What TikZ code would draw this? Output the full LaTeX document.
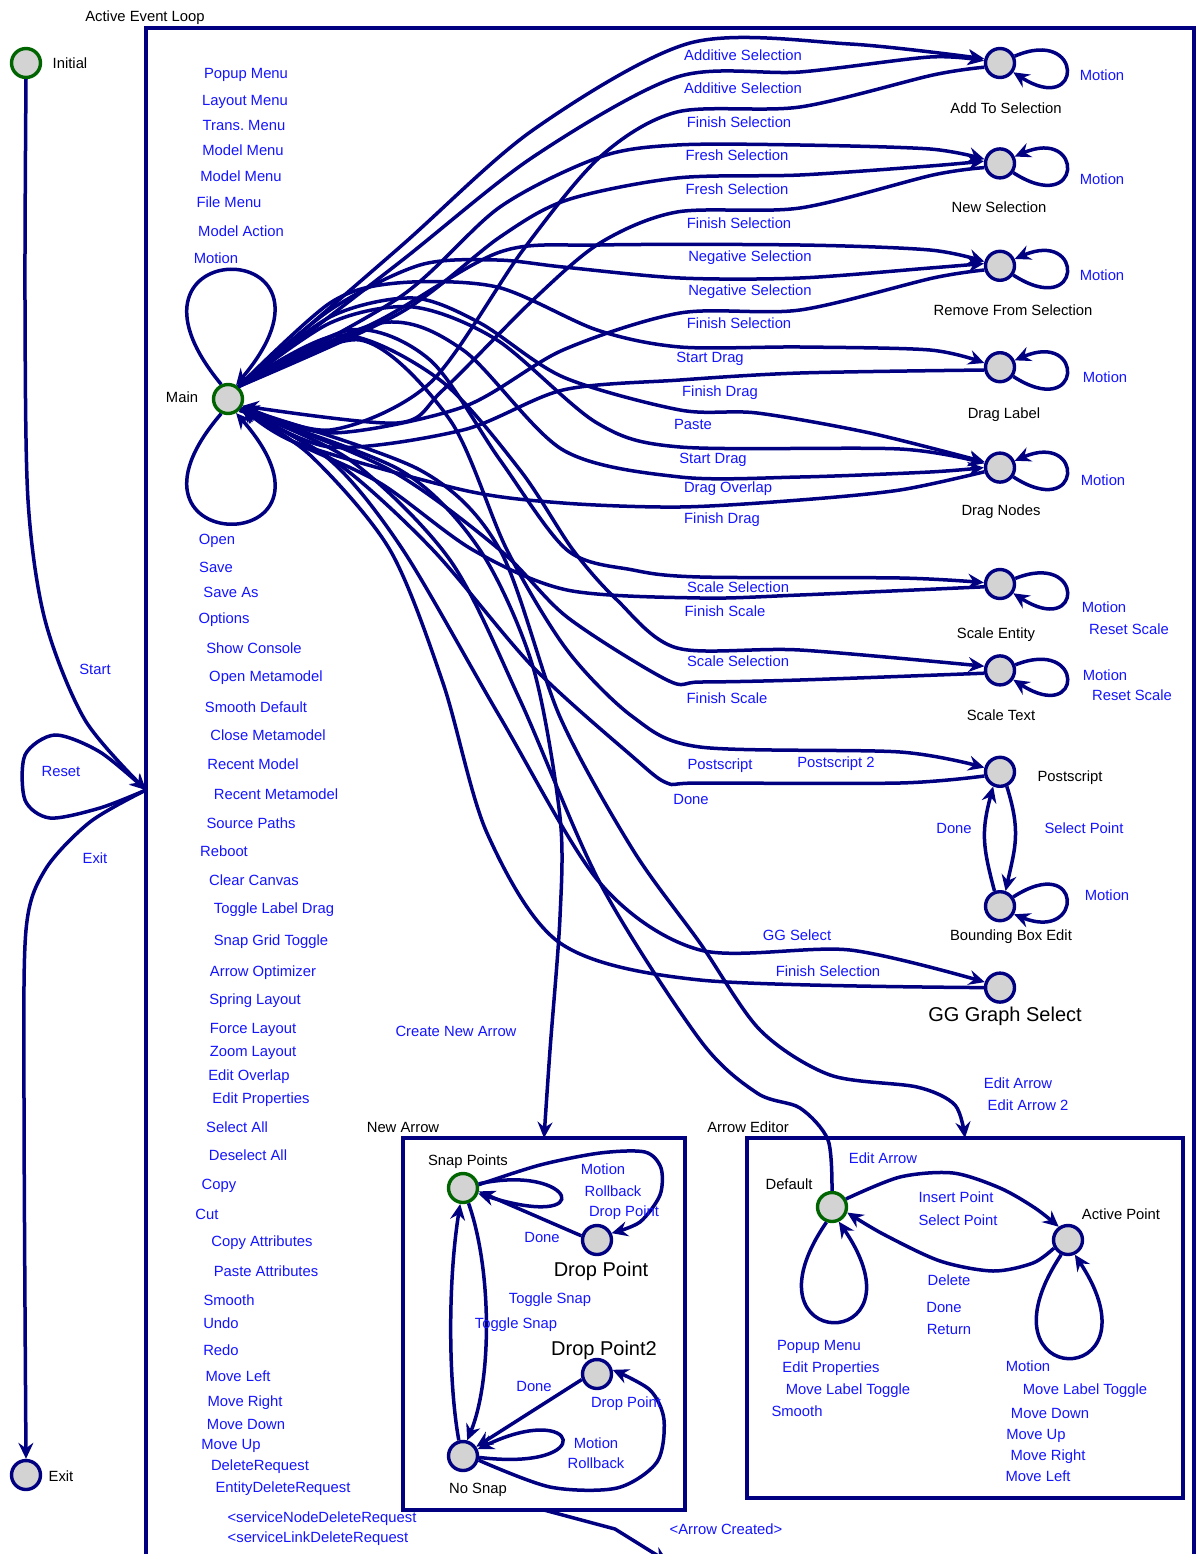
\documentclass[tikz,border=0pt]{standalone}
\usepackage{fontspec}
\setmainfont{Liberation Sans}
\frenchspacing
\usetikzlibrary{arrows.meta,automata,positioning}
\definecolor{navyline}{RGB}{0,0,128}
\definecolor{initgreen}{RGB}{0,100,0}
\definecolor{stategray}{RGB}{211,211,211}
\definecolor{lblblue}{RGB}{20,20,255}
\newcommand{\lblfont}{\fontsize{14.8}{17}\selectfont}
\newcommand{\bigfont}{\fontsize{20}{23}\selectfont}

\begin{document}
\begin{tikzpicture}[x=1pt,y=-1pt,>={Stealth[length=16pt,width=15pt,inset=5.5pt]},
    every state/.style={draw=navyline,fill=stategray,line width=3.4pt,minimum size=29pt,inner sep=0pt},
    startst/.style={state,draw=initgreen},
    trans/.style={draw=navyline,line width=3.5pt,->},
    lbl/.style={text=lblblue,font=\lblfont,inner sep=0pt,anchor=base,yshift=-5.3pt},
    nm/.style={lbl,text=black},
    bignm/.style={text=black,font=\bigfont,inner sep=0pt,anchor=base,yshift=-7.2pt},
    regionbox/.style={draw=navyline,line width=3.5pt,anchor=north west,inner sep=0pt,outer sep=0pt}]
  \useasboundingbox (0,0) rectangle (1196,1554);

  % regions
  \node[regionbox,minimum width=1048pt,minimum height=1600pt] (evtloop) at (146,28) {};
  \node[regionbox,minimum width=282pt,minimum height=372pt] (newarrow) at (403,1138) {};
  \node[regionbox,minimum width=436pt,minimum height=360pt] (arroweditor) at (747,1138) {};
  \node[nm] (evtloop-l) at (145,16) {Active Event Loop};
  \node[nm] (newarrow-l) at (403,1127) {New Arrow};
  \node[nm] (arroweditor-l) at (748,1127) {Arrow Editor};
  \coordinate (loopport) at (146,790);
  \coordinate (created) at (668,1562);

  % states
  \node[startst] (initial) at (26,63) {};
  \node[state]   (exitst)  at (26,1475) {};
  \node[startst] (main)    at (228,399) {};
  \node[state] (addsel) at (1000,63) {};
  \node[state] (newsel)     [below=68pt of addsel]     {};
  \node[state] (remove)     [below=70pt of newsel]     {};
  \node[state] (draglabel)  [below=69pt of remove]     {};
  \node[state] (dragnodes)  [below=68pt of draglabel]  {};
  \node[state] (scaleent)   [below=84pt of dragnodes]  {};
  \node[state] (scaletext)  [below=54pt of scaleent]   {};
  \node[state] (postscript) [below=69pt of scaletext]  {};
  \node[state] (bbox)       [below=102pt of postscript] {};
  \node[state] (gg)         [below=49pt of bbox]       {};
  \node[startst] (snap) at (463,1188) {};
  \node[state] (dropp)  at (597,1240) {};
  \node[state] (dropp2) at (597,1374) {};
  \node[state] (nosnap) at (463,1456) {};
  \node[startst] (default) at (832,1207) {};
  \node[state] (active) at (1068,1240) {};

  \node[nm] (initial-l) at (70,63) {Initial};
  \node[nm] (exitst-l) at (61,1476) {Exit};
  \node[nm] (main-l) at (182,397) {Main};
  \node[nm] (addsel-l) at (1006,108) {Add To Selection};
  \node[nm] (newsel-l) at (999,207) {New Selection};
  \node[nm] (remove-l) at (1013,310) {Remove From Selection};
  \node[nm] (draglabel-l) at (1004,413) {Drag Label};
  \node[nm] (dragnodes-l) at (1001,510) {Drag Nodes};
  \node[nm] (scaleent-l) at (996,633) {Scale Entity};
  \node[nm] (scaletext-l) at (1001,715) {Scale Text};
  \node[nm] (postscript-l) at (1070,776) {Postscript};
  \node[nm] (bbox-l) at (1011,935) {Bounding Box Edit};
  \node[bignm] (gg-l) at (1005,1014) {GG Graph Select};
  \node[nm] (snap-l) at (468,1160) {Snap Points};
  \node[bignm] (dropp-l) at (601,1269) {Drop Point};
  \node[bignm] (dropp2-l) at (604,1348) {Drop Point2};
  \node[nm] (nosnap-l) at (478,1488) {No Snap};
  \node[nm] (default-l) at (789,1184) {Default};
  \node[nm] (active-l) at (1121,1214) {Active Point};

  % outer loop
  \draw[trans] plot[smooth] coordinates {(initial.south) (25,300) (28,500) (45,620) (85,720) (loopport)}
    node[lbl] (start-l) at (95,669) {Start};
  \draw[trans] plot[smooth] coordinates {(loopport) (100,808) (50,818) (25,800) (25,755) (55,735) (100,752) (loopport)}
    node[lbl] (reset-l) at (61,771) {Reset};
  \draw[trans] plot[smooth] coordinates {(loopport) (90,822) (45,870) (26,930) (24,1100) (exitst.north)}
    node[lbl] (exit-l) at (95,858) {Exit};

  % Main self loops
  \draw[trans] (main.115) .. controls (95,232) and (365,232) .. (main.60);
  \draw[trans] (main.-115) .. controls (95,560) and (365,560) .. (main.-60);
  \foreach \lx/\ly/\lt [count=\i] in {246/73/Popup Menu, 245/100/Layout Menu, 244/125/Trans. Menu,
      243/150/Model Menu, 241/176/Model Menu, 229/202/File Menu, 241/231/Model Action, 216/258/Motion}
    \node[lbl] (mainup-\i) at (\lx,\ly) {\lt};
  \foreach \lx/\ly/\lt [count=\i] in {217/539/Open, 216/567/Save, 231/592/Save As, 224/618/Options,
      254/648/Show Console, 266/676/Open Metamodel, 256/707/Smooth Default, 268/735/Close Metamodel,
      253/764/Recent Model, 276/794/Recent Metamodel, 251/823/Source Paths, 224/851/Reboot,
      254/880/Clear Canvas, 274/908/Toggle Label Drag, 271/940/Snap Grid Toggle, 263/971/Arrow Optimizer,
      255/999/Spring Layout, 253/1028/Force Layout, 253/1051/Zoom Layout, 249/1075/Edit Overlap,
      261/1098/Edit Properties, 237/1127/Select All, 248/1155/Deselect All, 219/1184/Copy, 207/1214/Cut,
      262/1241/Copy Attributes, 266/1271/Paste Attributes, 229/1300/Smooth, 221/1323/Undo, 221/1350/Redo,
      238/1376/Move Left, 245/1401/Move Right, 246/1424/Move Down, 231/1444/Move Up,
      260/1465/DeleteRequest, 283/1487/EntityDeleteRequest, 322/1517/<serviceNodeDeleteRequest,
      318/1537/<serviceLinkDeleteRequest}
    \node[lbl] (maindown-\i) at (\lx,\ly) {\lt};

  % Main <-> selection states
  \draw[trans] plot[smooth] coordinates {(main.50) (400,247) (533,130) (690,43) (850,44) (addsel.165)}
    node[lbl] (as1-l) at (743,55) {Additive Selection};
  \draw[trans] plot[smooth] coordinates {(main.50) (400,262) (533,157) (677,77) (800,72) (930,57) (addsel.172)}
    node[lbl] (as2-l) at (743,88) {Additive Selection};
  \draw[trans] plot[smooth] coordinates {(addsel.195) (933,75) (800,107) (677,112) (600,157) (523,250) (430,383) (330,430) (main.-25)}
    node[lbl] (fs1-l) at (739,122) {Finish Selection};
  \draw[trans] plot[smooth] coordinates {(main.50) (400,297) (500,207) (600,157) (677,145) (800,145) (930,149) (newsel.165)}
    node[lbl] (fr1-l) at (737,155) {Fresh Selection};
  \draw[trans] plot[smooth] coordinates {(main.50) (400,313) (500,237) (567,200) (677,178) (800,175) (930,166) (newsel.172)}
    node[lbl] (fr2-l) at (737,189) {Fresh Selection};
  \draw[trans] plot[smooth] coordinates {(newsel.195) (933,175) (800,208) (677,212) (600,243) (533,300) (443,390) (397,423) (main.-25)}
    node[lbl] (fs2-l) at (739,223) {Finish Selection};
  \draw[trans] plot[smooth] coordinates {(main.50) (380,320) (500,252) (600,245) (800,245) (930,250) (remove.165)}
    node[lbl] (ng1-l) at (750,256) {Negative Selection};
  \draw[trans] plot[smooth] coordinates {(main.50) (330,310) (420,265) (497,260) (563,267) (680,278) (800,278) (930,268) (remove.172)}
    node[lbl] (ng2-l) at (750,290) {Negative Selection};
  \draw[trans] plot[smooth] coordinates {(remove.195) (933,278) (800,310) (680,313) (563,350) (463,407) (330,433) (main.-25)}
    node[lbl] (fs3-l) at (739,323) {Finish Selection};

  % Main <-> drag states
  \draw[trans] plot[smooth] coordinates {(main.50) (330,303) (397,283) (497,287) (597,330) (680,347) (800,347) (930,350) (draglabel.165)}
    node[lbl] (sd1-l) at (710,357) {Start Drag};
  \draw[trans] plot[smooth] coordinates {(draglabel.190) (800,373) (680,380) (563,390) (463,430) (330,447) (main.-30)}
    node[lbl] (fd1-l) at (720,391) {Finish Drag};
  \draw[trans] plot[smooth] coordinates {(main.50) (330,317) (413,298) (480,323) (563,377) (680,410) (757,413) (870,433) (dragnodes.160)}
    node[lbl] (paste-l) at (693,424) {Paste};
  \draw[trans] plot[smooth] coordinates {(main.50) (330,323) (413,307) (497,340) (597,423) (680,447) (900,449) (dragnodes.165)}
    node[lbl] (sd2-l) at (713,458) {Start Drag};
  \draw[trans] plot[smooth] coordinates {(main.50) (380,323) (463,350) (563,450) (680,477) (800,477) (930,472) (dragnodes.180)}
    node[lbl] (do-l) at (728,487) {Drag Overlap};
  \draw[trans] plot[smooth] coordinates {(dragnodes.195) (900,490) (800,500) (680,507) (563,503) (463,490) (297,443) (main.-30)}
    node[lbl] (fd2-l) at (722,518) {Finish Drag};

  % Main <-> scale states
  \draw[trans] plot[smooth] coordinates {(main.50) (350,330) (430,360) (500,460) (567,550) (633,570) (700,577) (900,578) (scaleent.175)}
    node[lbl] (ss1-l) at (738,587) {Scale Selection};
  \draw[trans] plot[smooth] coordinates {(scaleent.190) (800,595) (700,598) (567,590) (473,550) (380,483) (290,440) (main.-35)}
    node[lbl] (fsc1-l) at (725,611) {Finish Scale};
  \draw[trans] plot[smooth] coordinates {(main.50) (340,335) (440,380) (520,470) (573,550) (617,600) (677,648) (800,650) (scaletext.165)}
    node[lbl] (ss2-l) at (738,661) {Scale Selection};
  \draw[trans] plot[smooth] coordinates {(scaletext.190) (800,680) (700,682) (667,680) (567,617) (500,550) (390,470) (main.-35)}
    node[lbl] (fsc2-l) at (727,698) {Finish Scale};

  % Main <-> postscript
  \draw[trans] plot[smooth] coordinates {(main.50) (360,340) (450,420) (507,550) (567,650) (633,717) (700,747) (900,752) (postscript.165)}
    node[lbl] (ps1-l) at (720,764) {Postscript}
    node[lbl] (ps2-l) at (836,762) {Postscript 2};
  \draw[trans] plot[smooth] coordinates {(postscript.195) (900,783) (700,783) (667,783) (633,757) (533,667) (433,550) (340,465) (main.-35)}
    node[lbl] (psdone-l) at (691,799) {Done};

  % Main <-> GG select
  \draw[trans] plot[smooth] coordinates {(main.-40) (330,460) (403,550) (500,717) (600,883) (700,950) (850,950) (gg.160)}
    node[lbl] (ggs-l) at (797,935) {GG Select};
  \draw[trans] plot[smooth] coordinates {(gg.180) (700,980) (560,943) (487,833) (443,683) (390,550) (310,455) (main.-40)}
    node[lbl] (ggf-l) at (828,971) {Finish Selection};

  % Main <-> arrow regions
  \draw[trans] plot[smooth] coordinates {(main.-45) (400,470) (480,550) (533,667) (560,817) (560,917) (550,1050) (newarrow.north)}
    node[lbl] (cna-l) at (456,1031) {Create New Arrow};
  \draw[trans] plot[smooth] coordinates {(main.-35) (420,470) (500,550) (560,717) (633,850) (700,943) (760,1030) (830,1075) (917,1087) (955,1105) (arroweditor.north)}
    node[lbl] (ea1-l) at (1018,1083) {Edit Arrow}
    node[lbl] (ea2-l) at (1028,1105) {Edit Arrow 2};
  \draw[trans] plot[smooth] coordinates {(default.north) (828,1140) (800,1108) (757,1093) (700,1040) (600,883) (520,700) (450,560) (350,460) (main.-40)};
  \draw[trans] (newarrow.south) -- (615,1529) -- (created)
    node[lbl] (created-l) at (726,1529) {<Arrow Created>};

  % right self loops
  \draw[trans] (addsel.25) .. controls +(70,-30) and +(70,45) .. (addsel.-35)
    node[lbl] (addsel-m) at (1102,75) {Motion};
  \draw[trans] (newsel.-35) .. controls +(70,45) and +(70,-30) .. (newsel.25)
    node[lbl] (newsel-m) at (1102,179) {Motion};
  \draw[trans] (remove.-35) .. controls +(70,45) and +(70,-30) .. (remove.25)
    node[lbl] (remove-m) at (1102,275) {Motion};
  \draw[trans] (draglabel.-35) .. controls +(70,45) and +(70,-30) .. (draglabel.25)
    node[lbl] (draglabel-m) at (1105,377) {Motion};
  \draw[trans] (dragnodes.-35) .. controls +(70,45) and +(70,-30) .. (dragnodes.25)
    node[lbl] (dragnodes-m) at (1103,480) {Motion};
  \draw[trans] (scaleent.20) .. controls +(70,-28) and +(70,45) .. (scaleent.-35)
    node[lbl] (scaleent-m) at (1104,607) {Motion}
    node[lbl] (scaleent-r) at (1129,629) {Reset Scale};
  \draw[trans] (scaletext.20) .. controls +(70,-28) and +(70,45) .. (scaletext.-35)
    node[lbl] (scaletext-m) at (1105,675) {Motion}
    node[lbl] (scaletext-r) at (1132,695) {Reset Scale};
  \draw[trans] (bbox.35) .. controls +(70,-45) and +(70,28) .. (bbox.-30)
    node[lbl] (bbox-m) at (1107,895) {Motion};

  % postscript <-> bounding box
  \draw[trans] (postscript.-65) .. controls +(14,45) and +(10,-45) .. (bbox.70)
    node[lbl] (selpt-l) at (1084,828) {Select Point};
  \draw[trans] (bbox.110) .. controls +(-12,-45) and +(-12,45) .. (postscript.-115)
    node[lbl] (bbdone-l) at (954,828) {Done};

  % New Arrow
  \draw[trans] (snap.15) .. controls (575,1163) and (600,1232) .. (snap.-20)
    node[lbl] (snap-m) at (603,1169) {Motion}
    node[lbl] (snap-r) at (613,1191) {Rollback};
  \draw[trans] plot[smooth] coordinates {(snap.12) (540,1165) (600,1153) (645,1152) (661,1168) (660,1195) (640,1222) (dropp.25)}
    node[lbl] (snapdp-l) at (624,1211) {Drop Point};
  \draw[trans] (dropp.165) -- (snap.-12)
    node[lbl] (dpdone-l) at (542,1237) {Done};
  \draw[trans] (snap.-70) .. controls (492,1270) and (492,1380) .. (nosnap.75)
    node[lbl] (ts1-l) at (550,1298) {Toggle Snap};
  \draw[trans] (nosnap.105) .. controls (448,1380) and (448,1280) .. (snap.-100)
    node[lbl] (ts2-l) at (516,1323) {Toggle Snap};
  \draw[trans] (dropp2.-160) -- (nosnap.35)
    node[lbl] (dp2done-l) at (534,1386) {Done};
  \draw[trans] plot[smooth] coordinates {(nosnap.-15) (550,1487) (617,1488) (657,1462) (664,1420) (650,1390) (dropp2.15)}
    node[lbl] (nsdp-l) at (626,1402) {Drop Point};
  \draw[trans] (nosnap.-5) .. controls (600,1472) and (580,1400) .. (nosnap.25)
    node[lbl] (nosnap-m) at (596,1443) {Motion}
    node[lbl] (nosnap-r) at (596,1463) {Rollback};

  % Arrow Editor
  \draw[trans] plot[smooth] coordinates {(default.30) (900,1177) (953,1173) (1000,1188) (1035,1208) (active.125)}
    node[lbl] (ed-l) at (883,1158) {Edit Arrow}
    node[lbl] (ins-l) at (956,1197) {Insert Point}
    node[lbl] (sel-l) at (958,1220) {Select Point};
  \draw[trans] plot[smooth] coordinates {(active.-150) (1033,1263) (993,1271) (940,1261) (883,1234) (default.-20)}
    node[lbl] (del-l) at (949,1280) {Delete}
    node[lbl] (done-l) at (944,1307) {Done}
    node[lbl] (ret-l) at (949,1329) {Return};
  \draw[trans] (default.-110) .. controls (735,1355) and (930,1355) .. (default.-65);
  \draw[trans] (active.-115) .. controls (970,1392) and (1165,1392) .. (active.-65);
  \foreach \lx/\ly/\lt [count=\i] in {819/1345/Popup Menu, 831/1367/Edit Properties,
      848/1389/Move Label Toggle, 797/1411/Smooth}
    \node[lbl] (defloop-\i) at (\lx,\ly) {\lt};
  \foreach \lx/\ly/\lt [count=\i] in {1028/1366/Motion, 1085/1389/Move Label Toggle, 1050/1413/Move Down,
      1036/1434/Move Up, 1048/1455/Move Right, 1038/1476/Move Left}
    \node[lbl] (actloop-\i) at (\lx,\ly) {\lt};
\end{tikzpicture}
\end{document}
